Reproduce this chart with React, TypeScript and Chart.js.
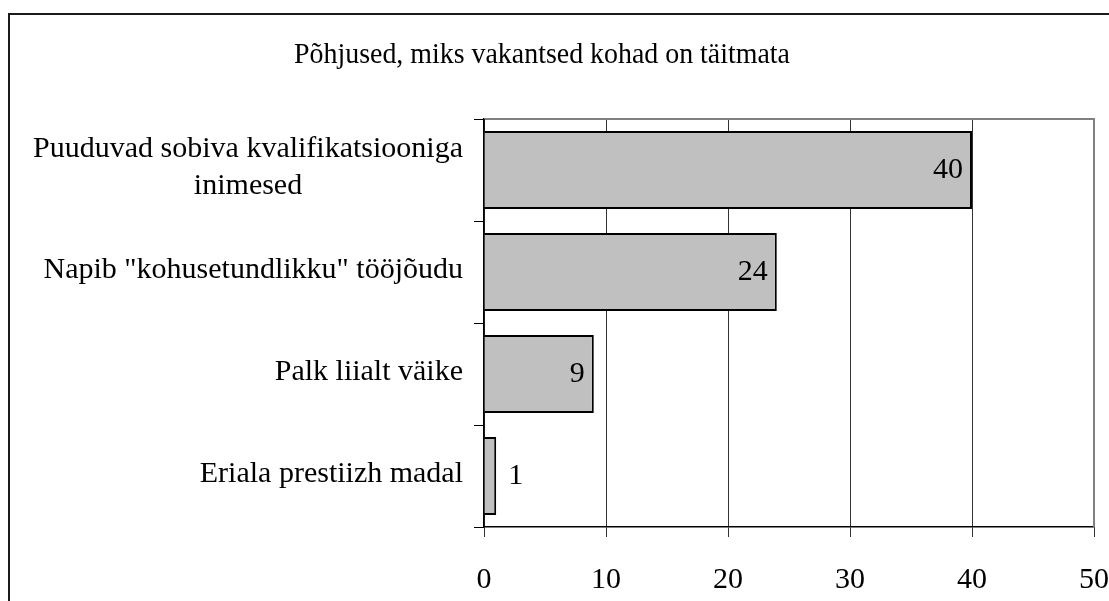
import React, { useEffect, useRef } from "react";
import { Chart, registerables } from "chart.js";

Chart.register(...registerables);

const title = "Põhjused, miks vakantsed kohad on täitmata";
const categories: string[][] = [
  ["Puuduvad sobiva kvalifikatsiooniga", "inimesed"],
  ['Napib "kohusetundlikku" tööjõudu'],
  ["Palk liialt väike"],
  ["Eriala prestiizh madal"],
];
const values: number[] = [40, 24, 9, 1];
const xMin = 0;
const xMax = 50;
const xStep = 10;

const FONT = '"Liberation Serif", "Times New Roman", serif';
const TITLE_SIZE = 30;
const TITLE_SCALE_X = 0.93;
const FONT_SIZE = 30;

const decorPlugin = {
  id: "decor",
  beforeDraw(chart: any) {
    const ctx = chart.ctx as CanvasRenderingContext2D;
    ctx.save();
    ctx.fillStyle = "#ffffff";
    ctx.fillRect(0, 0, chart.width, chart.height);
    ctx.strokeStyle = "#1a1a1a";
    ctx.lineWidth = 2;
    ctx.beginPath();
    ctx.moveTo(9, chart.height + 5);
    ctx.lineTo(9, 14);
    ctx.lineTo(chart.width + 5, 14);
    ctx.stroke();
    ctx.font = `${TITLE_SIZE}px ${FONT}`;
    ctx.fillStyle = "#000";
    ctx.textAlign = "center";
    ctx.textBaseline = "alphabetic";
    ctx.translate(542, 63);
    ctx.scale(TITLE_SCALE_X, 1);
    ctx.fillText(title, 0, 0);
    ctx.restore();
  },
  afterDraw(chart: any) {
    const ctx = chart.ctx as CanvasRenderingContext2D;
    const a = chart.chartArea;
    ctx.save();
    ctx.strokeStyle = "#808080";
    ctx.lineWidth = 2;
    ctx.beginPath();
    ctx.moveTo(a.left + 1, a.top);
    ctx.lineTo(a.right, a.top);
    ctx.lineTo(a.right, a.bottom);
    ctx.stroke();

    ctx.font = `${FONT_SIZE}px ${FONT}`;
    ctx.fillStyle = "#000";
    ctx.textBaseline = "middle";
    ctx.textAlign = "center";
    const yScale = chart.scales.y;
    categories.forEach((lines, i) => {
      const cy = yScale.getPixelForValue(i);
      const w = Math.max(...lines.map((l) => ctx.measureText(l).width));
      const cx = a.left - 21 - w / 2;
      const lh = 37;
      lines.forEach((l, j) => {
        ctx.fillText(l, cx, cy - 2 + (j - (lines.length - 1) / 2) * lh);
      });
    });

    const meta = chart.getDatasetMeta(0);
    meta.data.forEach((bar: any, i: number) => {
      const txt = String(values[i]);
      const w = ctx.measureText(txt).width;
      const len = bar.x - bar.base;
      if (len > w + 18) {
        ctx.textAlign = "right";
        ctx.fillText(txt, bar.x - 9, bar.y);
      } else {
        ctx.textAlign = "left";
        ctx.fillText(txt, bar.x + 12, bar.y);
      }
    });
    ctx.restore();
  },
};

export default function App() {
  const ref = useRef<HTMLCanvasElement>(null);
  useEffect(() => {
    const chart = new Chart(ref.current as HTMLCanvasElement, {
      type: "bar",
      data: {
        labels: categories.map((c) => c.join(" ")),
        datasets: [
          {
            data: values,
            backgroundColor: "#c0c0c0",
            borderColor: "#000000",
            borderWidth: 2,
            barPercentage: 0.765,
            categoryPercentage: 1,
          },
        ],
      },
      options: {
        indexAxis: "y",
        responsive: false,
        animation: false,
        layout: { padding: { left: 0, right: 0, top: 119, bottom: 0 } },
        plugins: {
          legend: { display: false },
          title: { display: false },
          tooltip: { enabled: false },
        },
        scales: {
          y: {
            type: "category",
            ticks: { display: false },
            grid: {
              offset: true,
              drawOnChartArea: false,
              drawTicks: true,
              tickLength: 10,
              color: "#000",
              lineWidth: 1,
            },
            border: { display: true, color: "#000", width: 1.5 },
            afterFit: (scale: any) => {
              scale.width = 484;
              scale.paddingTop = 0;
              scale.paddingBottom = 0;
            },
          },
          x: {
            type: "linear",
            min: xMin,
            max: xMax,
            ticks: {
              stepSize: xStep,
              padding: 25,
              color: "#000",
              font: { family: FONT, size: FONT_SIZE },
            },
            grid: {
              color: "#333",
              lineWidth: 1,
              drawTicks: true,
              tickLength: 10,
            },
            border: { display: true, color: "#000", width: 1.5 },
            afterFit: (scale: any) => {
              scale.height = 74;
              scale.paddingLeft = 0;
              scale.paddingRight = 15;
            },
          },
        },
      },
      plugins: [decorPlugin],
    } as any);
    return () => chart.destroy();
  }, []);
  return (
    <div style={{ position: "fixed", left: 0, top: 0, width: 1109, height: 601, background: "#fff" }}>
      <canvas ref={ref} width={1109} height={601} style={{ display: "block" }} />
    </div>
  );
}
